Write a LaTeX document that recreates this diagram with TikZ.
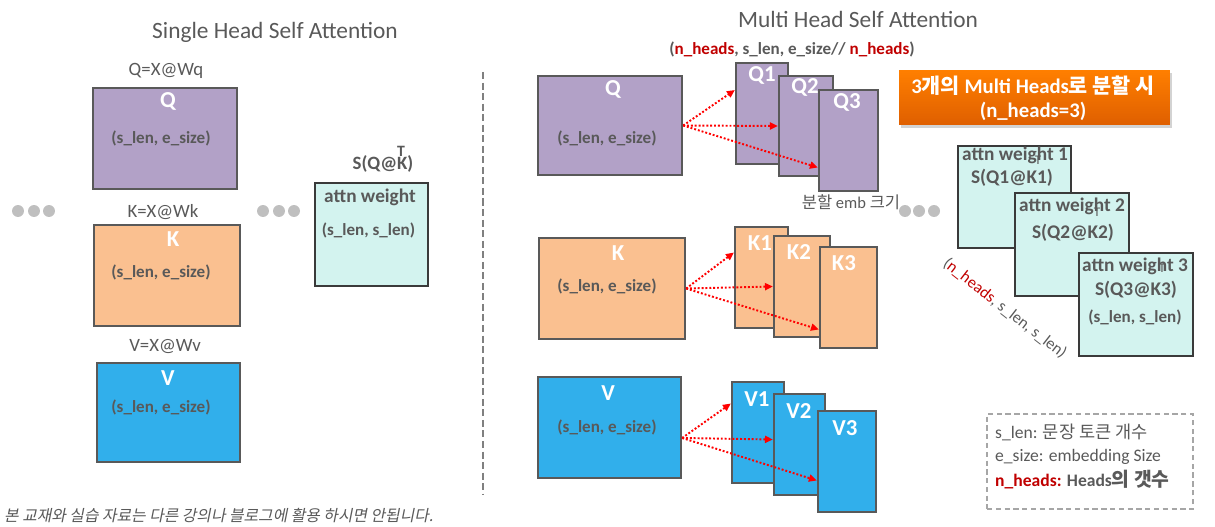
\documentclass[tikz,border=0pt]{standalone}
\usepackage{fontspec}
\setmainfont{Carlito}
\newfontfamily\krfont{Noto Sans CJK KR}
\newfontfamily\kritfont[FakeSlant=0.2]{Noto Sans CJK KR}
\usetikzlibrary{arrows.meta,shadows}

\definecolor{boxgray}{HTML}{595959}
\definecolor{txtgray}{HTML}{595959}
\definecolor{qfill}{HTML}{B2A1C7}
\definecolor{kfill}{HTML}{FAC090}
\definecolor{vfill}{HTML}{31AFEB}
\definecolor{afill}{HTML}{D3F3EF}
\definecolor{aedge}{HTML}{3A3A3A}
\definecolor{headred}{HTML}{C00000}
\definecolor{dotgray}{HTML}{BFBFBF}
\definecolor{orgtop}{HTML}{FF7F00}
\definecolor{orgbot}{HTML}{DF5F00}

\newcommand\fsz[1]{\fontsize{#1}{#1}\selectfont}
\newcommand\nh{\textcolor{headred}{n\_heads}}

\tikzset{
    mat/.style={draw=boxgray, line width=1.3pt, inner sep=0pt},
    qbox/.style={mat, fill=qfill},
    kbox/.style={mat, fill=kfill},
    vbox/.style={mat, fill=vfill},
    abox/.style={draw=aedge, line width=1.3pt, fill=afill, inner sep=0pt},
    ttl/.style={text=txtgray, font=\fsz{13.3}},
    eqn/.style={text=txtgray, font=\fsz{10.7}},
    big/.style={text=white, font=\bfseries\fsz{13}},
    dim/.style={text=txtgray, font=\bfseries\fsz{9.7}},
    wgt/.style={text=txtgray, font=\bfseries\fsz{11}},
    tmark/.style={text=txtgray, font=\fsz{7.5}, inner sep=0pt},
    split/.style={draw=red, line width=1.1pt, dash pattern=on 1.1pt off 1.1pt,
        -{Triangle[length=4.5pt,width=4pt]}}
}

\begin{document}
\begin{tikzpicture}[x=0.02cm, y=-0.02cm]
                \useasboundingbox (0,0) rectangle (1215,527);

                % single head
                \node[ttl, name=ttlS] at (275,32) {Single Head Self Attention};

                \node[eqn, name=eqQ] at (166,71) {Q=X@Wq};
                \node[qbox, minimum width=2.88cm, minimum height=2.02cm, name=qs] at (165,138.5) {};
                \node[big, name=qsL] at (168,101) {Q};
                \node[dim, name=qsD] at (161,138) {(s\_len, e\_size)};

                \node[eqn, name=eqK] at (163,212) {K=X@Wk};
                \node[kbox, minimum width=2.92cm, minimum height=2.02cm, name=ks] at (167,275.5) {};
                \node[big, name=ksL] at (173,239) {K};
                \node[dim, name=ksD] at (161,272) {(s\_len, e\_size)};

                \node[eqn, name=eqV] at (165,347) {V=X@Wv};
                \node[vbox, minimum width=2.86cm, minimum height=1.98cm, name=vs] at (168.5,412.5) {};
                \node[big, name=vsL] at (168,378) {V};
                \node[dim, name=vsD] at (161,407) {(s\_len, e\_size)};

                \node[wgt, font=\bfseries\fsz{10.7}, name=sqk] at (383,164) {S(Q@K)};
                \node[tmark, font=\bfseries\fsz{9}, name=sqkT] at (401,151) {T};
                \node[abox, minimum width=2.26cm, minimum height=2.06cm, name=attn] at (371.5,234.5) {};
                \node[wgt, name=attnL] at (370,197) {attn weight};
                \node[dim, name=attnD] at (368.5,230) {(s\_len, s\_len)};

                \foreach \x in {18,34,49,263,279,294,905,919,934}
                    \fill[dotgray] (\x,211) circle (0.12cm);

                \draw[draw=gray, line width=0.7pt, dash pattern=on 4pt off 2pt] (483,72) -- (483,495);

                \node[anchor=west, text=txtgray, font=\kritfont\fsz{9}, name=note] at (-2,516)
                    {본 교재와 실습 자료는 다른 강의나 블로그에 활용 하시면 안됩니다.};

                % multi head
                \node[ttl, name=ttlM] at (858,19) {Multi Head Self Attention};
                \node[dim, name=shape] at (792,49) {(\nh, s\_len, e\_size// \nh)};

                \node[qbox, minimum width=2.88cm, minimum height=1.98cm, name=qm] at (610,125.5) {};
                \node[big, name=qmL] at (613,89) {Q};
                \node[dim, name=qmD] at (607,138) {(s\_len, e\_size)};
                \node[qbox, minimum width=1.04cm, minimum height=2.02cm, name=q1] at (762,113.5) {};
                \node[big, name=q1L] at (762,75) {Q1};
                \node[qbox, minimum width=1.08cm, minimum height=2.00cm, name=q2] at (806,126) {};
                \node[big, name=q2L] at (805,87) {Q2};
                \node[qbox, minimum width=1.18cm, minimum height=2.02cm, name=q3] at (848.5,140.5) {};
                \node[big, name=q3L] at (847,102) {Q3};

                \draw[split] (qm.east) -- ([yshift=0.47cm]q1.west);
                \draw[split] (qm.east) -- (q2.west);
                \draw[split] (qm.east) -- ([yshift=-0.54cm]q3.west);

                \node[text=txtgray, font=\fsz{9.4}, name=embsz] at (851,202) {{\krfont 분할} emb {\krfont 크기}};

                \node[kbox, minimum width=2.92cm, minimum height=2.02cm, name=km] at (612,288.5) {};
                \node[big, name=kmL] at (618,253) {K};
                \node[dim, name=kmD] at (607,286) {(s\_len, e\_size)};
                \node[kbox, minimum width=1.06cm, minimum height=2.02cm, name=k1] at (761.5,277.5) {};
                \node[big, name=k1L] at (760,243) {K1};
                \node[kbox, minimum width=1.12cm, minimum height=2.02cm, name=k2] at (802,286.5) {};
                \node[big, name=k2L] at (799,252) {K2};
                \node[kbox, minimum width=1.14cm, minimum height=2.02cm, name=k3] at (848.5,297.5) {};
                \node[big, name=k3L] at (844,263) {K3};

                \draw[split] (km.east) -- ([yshift=0.5cm]k1.west);
                \draw[split] (km.east) -- (k2.west);
                \draw[split] (km.east) -- ([yshift=-0.64cm]k3.west);

                \node[vbox, minimum width=2.86cm, minimum height=2.02cm, name=vm] at (609.5,427.5) {};
                \node[big, name=vmL] at (608,393) {V};
                \node[dim, name=vmD] at (607,427) {(s\_len, e\_size)};
                \node[vbox, minimum width=1.04cm, minimum height=2.02cm, name=v1] at (758,432.5) {};
                \node[big, name=v1L] at (757,399) {V1};
                \node[vbox, minimum width=1.02cm, minimum height=2.02cm, name=v2] at (799.5,444.5) {};
                \node[big, name=v2L] at (799,411) {V2};
                \node[vbox, minimum width=1.16cm, minimum height=2.02cm, name=v3] at (847,461.5) {};
                \node[big, name=v3L] at (845,428) {V3};

                \draw[split] ([yshift=-0.21cm]vm.east) -- ([yshift=0.58cm]v1.west);
                \draw[split] ([yshift=-0.21cm]vm.east) -- ([yshift=0.1cm]v2.west);
                \draw[split] ([yshift=-0.21cm]vm.east) -- ([yshift=-0.38cm]v3.west);

                % heads
                \node[
                    top color=orgtop,
                    bottom color=orgbot,
                    drop shadow={shadow xshift=1pt, shadow yshift=-1.5pt, opacity=0.35},
                    minimum width=5.42cm,
                    minimum height=1.10cm,
                    name=org
                ] at (1034.5,97.5) {};
                \node[text=white, font=\bfseries\fsz{11.8}, align=center, name=orgL] at (1033,98)
                    {3{\krfont 개의} Multi Heads{\krfont 로 분할 시}\\[2pt](n\_heads=3)};

                \node[abox, minimum width=2.26cm, minimum height=2.04cm, name=a1] at (1014.5,197) {};
                \node[wgt, name=a1L] at (1015,155) {attn weight 1};
                \node[wgt, name=a1S] at (1012,178) {S(Q1@K1)};
                \node[tmark, name=a1T] at (1038,160) {T};
                \node[abox, minimum width=2.28cm, minimum height=2.06cm, name=a2] at (1072,244.5) {};
                \node[wgt, name=a2L] at (1072,206) {attn weight 2};
                \node[wgt, name=a2S] at (1073,233) {S(Q2@K2)};
                \node[tmark, name=a2T] at (1097,212) {T};
                \node[abox, minimum width=2.28cm, minimum height=2.06cm, name=a3] at (1136,304.5) {};
                \node[wgt, name=a3L] at (1135,266) {attn weight 3};
                \node[wgt, name=a3S] at (1136,290) {S(Q3@K3)};
                \node[dim, name=a3D] at (1135,317) {(s\_len, s\_len)};
                \node[tmark, name=a3T] at (1162,268) {T};

                \node[text=txtgray, font=\fsz{9.3}, rotate=-38, name=ashape] at (1005,308.5)
                    {(\nh, s\_len, s\_len)};

                % legend
                \node[
                    draw=black!35,
                    line width=1pt,
                    dash pattern=on 3pt off 2pt,
                    minimum width=4.12cm,
                    minimum height=1.90cm,
                    name=leg
                ] at (1090,461.5) {};
                \node[anchor=west, text=txtgray, font=\fsz{10}, name=leg1] at (989,432)
                    {s\_len: {\krfont 문장 토큰 개수}};
                \node[anchor=west, text=txtgray, font=\fsz{10}, name=leg2] at (989,457)
                    {e\_size: embedding Size};
                \node[anchor=west, text=txtgray, font=\bfseries\fsz{10}, name=leg3] at (989,480)
                    {\textcolor{headred}{n\_heads:} Heads{\krfont\fsz{11}의 갯수}};
            \end{tikzpicture}
\end{document}
